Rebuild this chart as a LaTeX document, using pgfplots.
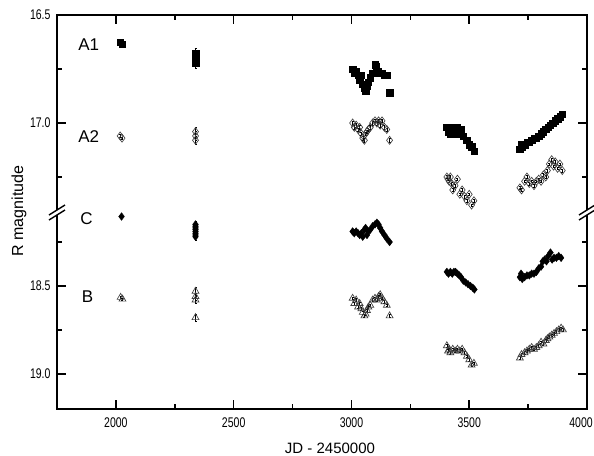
\documentclass[border=0pt]{standalone}
\usepackage{pgfplots}
\pgfplotsset{compat=1.18}
\pgfplotsset{every non boxed x axis/.style={}, every non boxed y axis/.style={}}
\usepackage{pgfplotstable}
\usepackage{fontspec}
\setmainfont{Liberation Sans}
\newfontfamily\narrowfont{Liberation Sans}[FakeStretch=0.75]

\pgfplotstableread{
x y e
2018 16.625 0.006
2026 16.635 0.006
2338 16.68 0.025
2338 16.69 0.025
2338 16.70 0.025
2338 16.71 0.025
2338 16.72 0.025
3005 16.75 0.010
3012 16.77 0.010
3020 16.76 0.010
3028 16.78 0.010
3035 16.80 0.010
3042 16.78 0.010
3048 16.82 0.010
3055 16.84 0.010
3060 16.85 0.010
3066 16.83 0.010
3072 16.81 0.010
3080 16.79 0.010
3090 16.77 0.010
3100 16.73 0.010
3106 16.74 0.010
3112 16.76 0.010
3120 16.77 0.010
3130 16.77 0.010
3140 16.78 0.010
3150 16.78 0.010
3162 16.86 0.010
3405 17.02 0.008
3410 17.04 0.008
3415 17.03 0.008
3420 17.05 0.008
3425 17.02 0.008
3430 17.04 0.008
3440 17.03 0.008
3445 17.05 0.008
3450 17.02 0.008
3458 17.04 0.008
3465 17.03 0.008
3475 17.06 0.008
3490 17.08 0.008
3500 17.10 0.008
3510 17.11 0.008
3520 17.13 0.008
3715 17.12 0.008
3720 17.10 0.008
3725 17.11 0.008
3735 17.10 0.008
3745 17.09 0.008
3755 17.09 0.008
3765 17.08 0.008
3775 17.07 0.008
3785 17.07 0.008
3795 17.06 0.008
3805 17.05 0.008
3815 17.04 0.008
3825 17.03 0.008
3835 17.02 0.008
3845 17.01 0.008
3855 17.00 0.008
3865 16.99 0.008
3875 16.98 0.008
3885 16.97 0.008
3895 16.96 0.008
}\Aone

\pgfplotstableread{
x y e
2018 17.06 0.006
2026 17.07 0.006
2338 17.04 0.02
2338 17.06 0.02
2338 17.08 0.02
3005 17.00 0.008
3012 17.02 0.008
3020 17.01 0.008
3028 17.03 0.008
3035 17.02 0.008
3042 17.05 0.008
3048 17.07 0.008
3055 17.08 0.008
3060 17.05 0.008
3066 17.04 0.008
3072 17.03 0.008
3080 17.02 0.008
3090 17.00 0.008
3100 16.99 0.008
3108 17.00 0.008
3115 16.99 0.008
3122 17.01 0.008
3130 16.99 0.008
3140 17.02 0.008
3150 17.03 0.008
3162 17.08 0.008
3405 17.25 0.006
3410 17.26 0.006
3415 17.27 0.006
3420 17.25 0.006
3425 17.28 0.006
3430 17.31 0.006
3440 17.29 0.006
3450 17.26 0.006
3460 17.33 0.006
3470 17.31 0.006
3480 17.34 0.006
3490 17.36 0.006
3500 17.33 0.006
3510 17.38 0.006
3520 17.36 0.006
3715 17.30 0.006
3722 17.31 0.006
3735 17.27 0.006
3745 17.25 0.006
3755 17.28 0.006
3765 17.27 0.006
3775 17.29 0.006
3785 17.27 0.006
3795 17.26 0.006
3805 17.27 0.006
3815 17.24 0.006
3825 17.25 0.006
3832 17.22 0.006
3840 17.19 0.006
3850 17.17 0.006
3858 17.20 0.006
3865 17.18 0.006
3875 17.21 0.006
3885 17.19 0.006
3895 17.22 0.006
}\Atwo

\pgfplotstableread{
x y e
2024 18.105 0.006
2338 18.15 0.02
2338 18.16 0.02
2338 18.17 0.02
2338 18.18 0.02
2338 18.19 0.02
2338 18.20 0.02
2338 18.21 0.02
2338 18.22 0.02
3005 18.19 0.010
3012 18.20 0.010
3020 18.19 0.010
3028 18.20 0.010
3035 18.21 0.010
3042 18.20 0.010
3048 18.22 0.010
3055 18.18 0.010
3060 18.17 0.010
3066 18.21 0.010
3072 18.19 0.010
3080 18.18 0.010
3090 18.16 0.010
3100 18.15 0.010
3108 18.14 0.010
3115 18.15 0.010
3122 18.17 0.010
3130 18.19 0.010
3140 18.21 0.010
3150 18.23 0.010
3162 18.25 0.010
3405 18.42 0.008
3412 18.43 0.008
3420 18.42 0.008
3428 18.43 0.008
3435 18.42 0.008
3442 18.42 0.008
3450 18.43 0.008
3458 18.44 0.008
3465 18.45 0.008
3475 18.47 0.008
3485 18.48 0.008
3495 18.49 0.008
3505 18.50 0.008
3515 18.51 0.008
3522 18.52 0.008
3715 18.45 0.008
3720 18.43 0.008
3725 18.46 0.008
3735 18.45 0.008
3745 18.44 0.008
3755 18.44 0.008
3765 18.43 0.008
3775 18.43 0.008
3785 18.42 0.008
3795 18.40 0.008
3805 18.39 0.008
3812 18.36 0.008
3820 18.35 0.008
3828 18.36 0.008
3835 18.33 0.008
3845 18.31 0.008
3852 18.35 0.008
3860 18.34 0.008
3870 18.34 0.008
3880 18.33 0.008
3890 18.34 0.008
}\Cdata

\pgfplotstableread{
x y e
2020 18.565 0.006
2028 18.575 0.006
2338 18.53 0.02
2338 18.56 0.02
2338 18.58 0.02
2338 18.68 0.02
3005 18.57 0.008
3012 18.60 0.008
3020 18.58 0.008
3028 18.62 0.008
3035 18.60 0.008
3042 18.63 0.008
3048 18.65 0.008
3055 18.67 0.008
3060 18.66 0.008
3066 18.64 0.008
3072 18.62 0.008
3080 18.61 0.008
3090 18.58 0.008
3100 18.57 0.008
3108 18.58 0.008
3115 18.56 0.008
3122 18.55 0.008
3130 18.57 0.008
3140 18.59 0.008
3150 18.61 0.008
3162 18.67 0.008
3405 18.84 0.008
3410 18.87 0.008
3415 18.86 0.008
3420 18.88 0.008
3430 18.86 0.008
3440 18.87 0.008
3450 18.86 0.008
3460 18.87 0.008
3470 18.86 0.008
3480 18.88 0.008
3490 18.90 0.008
3500 18.92 0.008
3510 18.95 0.008
3520 18.94 0.008
3715 18.91 0.008
3722 18.89 0.008
3735 18.88 0.008
3745 18.87 0.008
3755 18.86 0.008
3765 18.85 0.008
3775 18.86 0.008
3785 18.85 0.008
3795 18.84 0.008
3805 18.82 0.008
3815 18.83 0.008
3825 18.81 0.008
3832 18.80 0.008
3840 18.79 0.008
3850 18.78 0.008
3860 18.77 0.008
3870 18.76 0.008
3880 18.75 0.008
3890 18.74 0.008
3898 18.75 0.008
}\Bdata

\begin{document}
\begin{tikzpicture}
\pgfplotsset{
  common/.style={
    scale only axis, width=530pt,
    xmin=1750, xmax=4000, y dir=reverse,
    axis y line=box,
    major tick length=9pt, minor tick length=5pt,
    tick style={black, line width=1.6pt},
    xtick={2000,2500,3000,3500,4000},
    minor xtick={2250,2750,3250,3750},
    ticklabel style={font=\narrowfont\fontsize{14}{14}\selectfont},
    /pgf/number format/assume math mode=true,
    x tick label style={yshift=-5pt},
    y tick label style={/pgf/number format/.cd, fixed, fixed zerofill, precision=1, /tikz/.cd, xshift=-3pt},
    clip=false,
    error bars/error bar style={black, line width=0.45pt},
    error bars/error mark options={rotate=90, mark size=1pt, line width=0.45pt},
  },
  fix/.style={x axis line style={-}, tick align=inside, xtick align=inside, ytick align=inside,
    axis line style={-, line width=2pt}},
  sq/.style={only marks, mark=square*, mark size=3.2pt, mark options={black, fill=black},
    error bars/.cd, y dir=both, y explicit},
  odia/.style={only marks, mark=diamond, mark size=4pt, mark options={black!75, line width=0.65pt, fill=white},
    error bars/.cd, y dir=both, y explicit},
  fdia/.style={only marks, mark=diamond*, mark size=3.8pt, mark options={black, fill=black},
    error bars/.cd, y dir=both, y explicit},
  otri/.style={only marks, mark=triangle, mark size=4pt, mark options={black!75, line width=0.65pt, fill=white},
    error bars/.cd, y dir=both, y explicit},
}
\begin{axis}[common, name=top, at={(0pt,0pt)}, anchor=north west,
  height=198pt, ymin=16.5, ymax=17.4167,
  axis x line=top, fix, xticklabels={},
  ytick={16.5,17.0}, minor ytick={16.75,17.25}]
\addplot+[sq] table[x=x, y=y, y error=e] {\Aone};
\addplot+[odia] table[x=x, y=y, y error=e] {\Atwo};
\node[font=\fontsize{17}{17}\selectfont] at (axis cs:1885,16.638) {A1};
\node[font=\fontsize{17}{17}\selectfont] at (axis cs:1885,17.065) {A2};
\end{axis}
\begin{axis}[common, name=bot, at={(0pt,-198pt)}, anchor=north west,
  height=196pt, ymin=18.085, ymax=19.2,
  axis x line=bottom, fix,
  xticklabels={2000,2500,3000,3500,{\makebox[0pt][c]{\hspace{-12pt}4000}}},
  ytick={18.5,19.0}, minor ytick={18.25,18.75}]
\addplot+[fdia] table[x=x, y=y, y error=e] {\Cdata};
\addplot+[otri] table[x=x, y=y, y error=e] {\Bdata};
\node[font=\fontsize{17}{17}\selectfont] at (axis cs:1875,18.116) {C};
\node[font=\fontsize{17}{17}\selectfont] at (axis cs:1880,18.56) {B};
\end{axis}
% frame
\draw[line width=2pt, line join=miter] (top.north west) -- (top.north east) -- (bot.south east) -- (bot.south west) -- cycle;
% axis breaks
\foreach \bx in {0pt,530pt}{
  \fill[white] ([xshift=-8pt]\bx,-205pt) -- ([xshift=8pt]\bx,-195pt) -- ([xshift=8pt]\bx,-190pt) -- ([xshift=-8pt]\bx,-200pt) -- cycle;
  \draw[line width=1.4pt] ([xshift=-8pt]\bx,-205pt) -- ([xshift=8pt]\bx,-195pt);
  \draw[line width=1.4pt] ([xshift=-8pt]\bx,-200pt) -- ([xshift=8pt]\bx,-190pt);
}
\node[rotate=90, font=\fontsize{16}{16}\selectfont] at (-38pt,-196pt) {R magnitude};
\node[anchor=base, font=\fontsize{15}{15}\selectfont] at (273pt,-438pt) {JD - 2450000};
\pgfresetboundingbox
\path (-57pt,15pt) rectangle (537pt,-440pt);
\end{tikzpicture}
\end{document}
